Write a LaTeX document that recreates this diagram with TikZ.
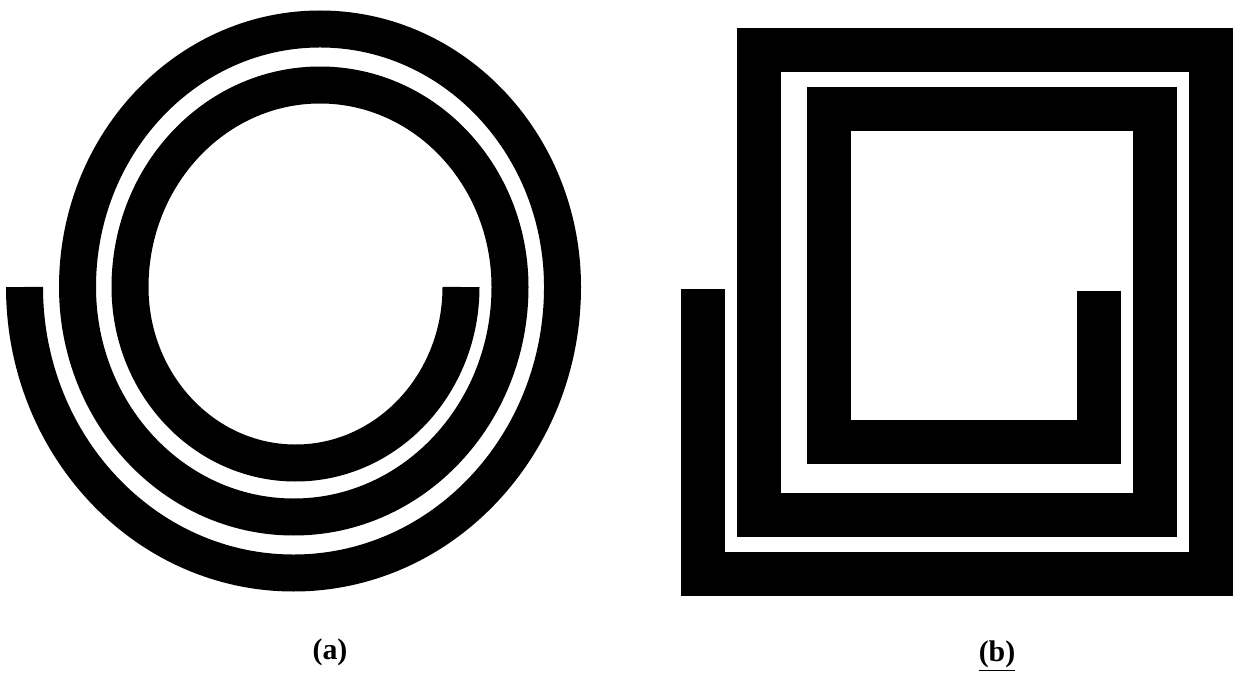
\documentclass[tikz,border=0pt]{standalone}
\usepackage{fontspec}
\setmainfont{Liberation Serif}
\begin{document}
\begin{tikzpicture}[x=0.02cm,y=-0.02cm,
  coil/.style={line width=0.74cm, line cap=butt, draw=black},
  sqcoil/.style={line width=0.88cm, line cap=butt, line join=miter, draw=black},
  caption/.style={font=\fontsize{17}{20}\selectfont\bfseries, inner sep=0pt}]
\useasboundingbox (0,0) rectangle (1239,675);
% (a) circular spiral
\draw[coil] (24.5,287)
  arc[start angle=180, end angle=0, x radius=269, y radius=286]
  arc[start angle=0, end angle=-180, x radius=242.5, y radius=258]
  arc[start angle=180, end angle=0, x radius=216.25, y radius=230]
  arc[start angle=0, end angle=-180, x radius=190, y radius=202]
  arc[start angle=180, end angle=0, x radius=165.5, y radius=176];
% (b) square spiral
\draw[sqcoil] (702.5,289) -- (702.5,573.5) -- (1210.5,573.5) -- (1210.5,50)
  -- (758.5,50) -- (758.5,515) -- (1154.5,515) -- (1154.5,109)
  -- (828.5,109) -- (828.5,442) -- (1098.5,442) -- (1098.5,291);
% captions
\node[caption] (capA) at (330,652) {(a)};
\node[caption] (capB) at (997,656) {\underline{(b)}};
\end{tikzpicture}
\end{document}
